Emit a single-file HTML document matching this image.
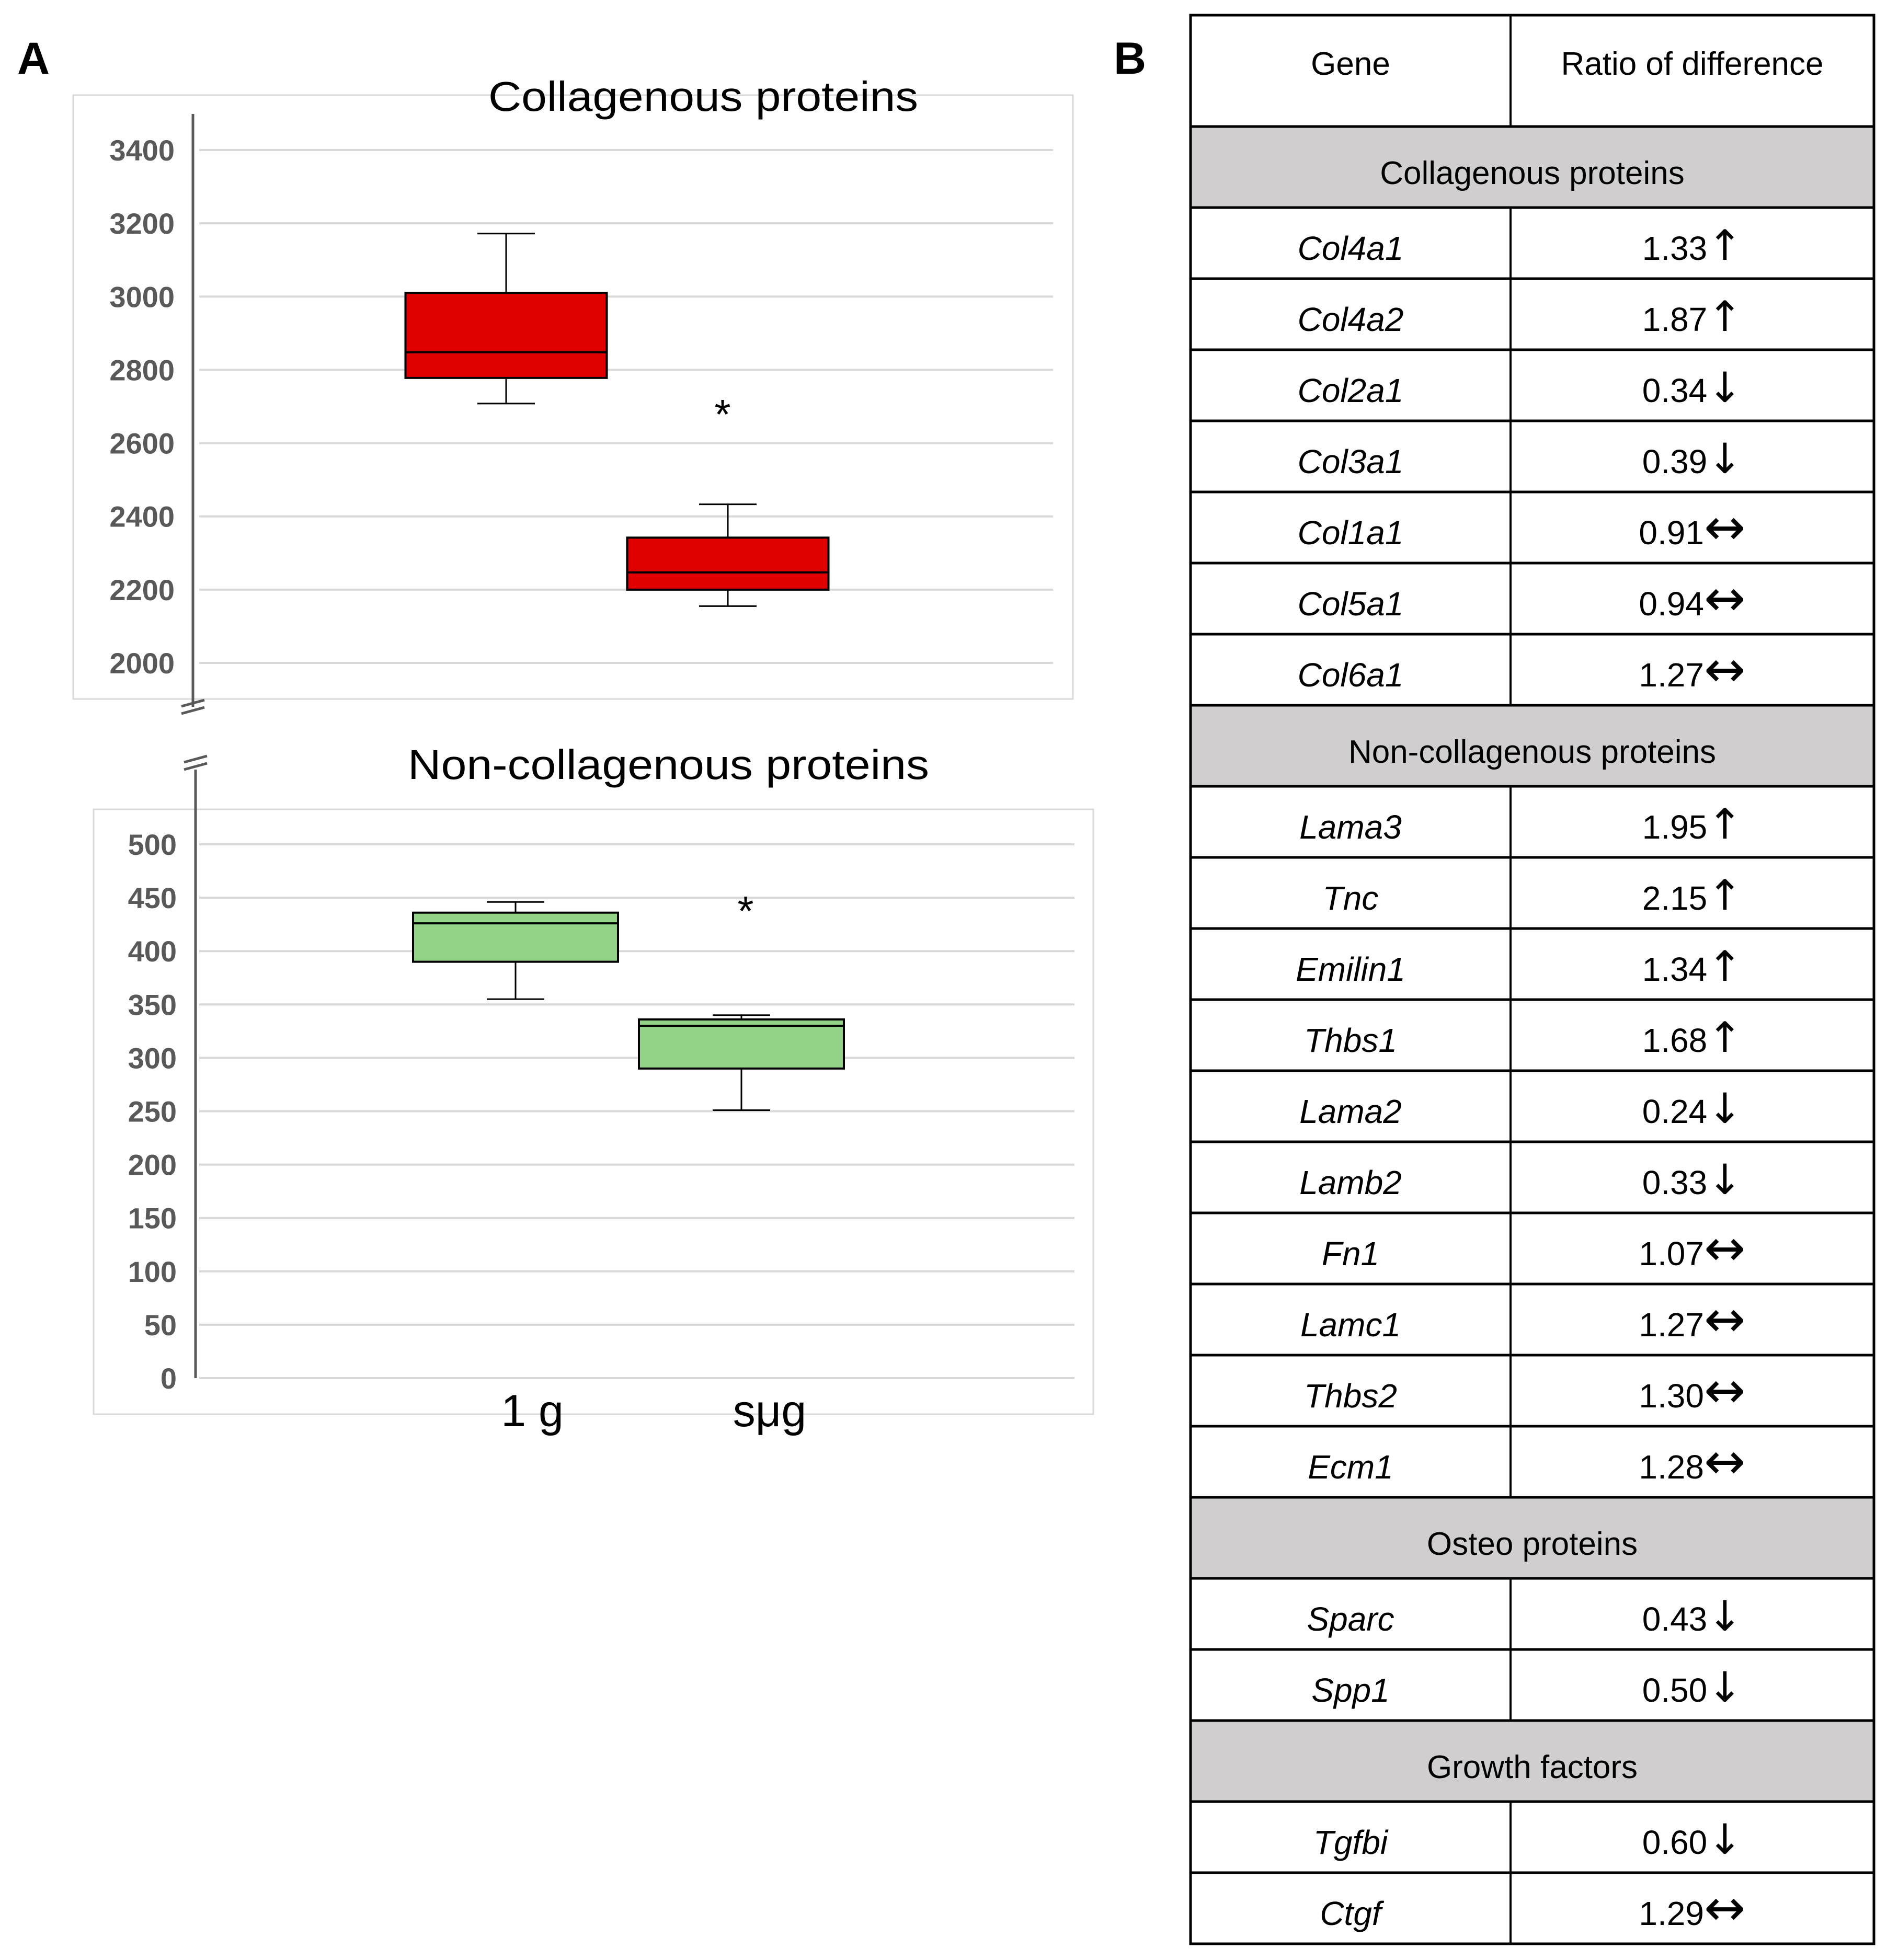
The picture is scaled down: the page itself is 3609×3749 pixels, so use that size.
<!DOCTYPE html>
<html><head><meta charset="utf-8"><style>
html,body{margin:0;padding:0;background:#fff;}
svg{display:block;}
text{font-family:"Liberation Sans",sans-serif;}
</style></head><body>
<svg id="fig" xmlns="http://www.w3.org/2000/svg" width="3609" height="3749" viewBox="0 0 3609 3749">
<rect width="3609" height="3749" fill="#fff"/>
<text x="33" y="141" font-size="86" font-weight="bold">A</text>
<text x="2130" y="141" font-size="86" font-weight="bold">B</text>
<g id="c1"></g>
<g id="c2"></g>
<g id="tbl"></g>
</svg>
<script>
// Chart 1 data
const c1Ticks = [2000,2200,2400,2600,2800,3000,3200,3400];
const c1Max = [3172,2433];
const c1Q3 = [3010,2342];
const c1Med = [2848,2247];
const c1Q1 = [2778,2200];
const c1Min = [2708,2155];
// Chart 2 data
const c2Ticks = [0,50,100,150,200,250,300,350,400,450,500];
const c2Max = [446,340];
const c2Q3 = [436,336];
const c2Med = [426,330];
const c2Q1 = [390,290];
const c2Min = [355,251];
const categories = ["1 g","sμg"];
// Table data
const sections = ["Collagenous proteins","Non-collagenous proteins","Osteo proteins","Growth factors"];
const genes = [
 ["Col4a1","Col4a2","Col2a1","Col3a1","Col1a1","Col5a1","Col6a1"],
 ["Lama3","Tnc","Emilin1","Thbs1","Lama2","Lamb2","Fn1","Lamc1","Thbs2","Ecm1"],
 ["Sparc","Spp1"],
 ["Tgfbi","Ctgf"]];
const ratios = [
 ["1.33↑","1.87↑","0.34↓","0.39↓","0.91↔","0.94↔","1.27↔"],
 ["1.95↑","2.15↑","1.34↑","1.68↑","0.24↓","0.33↓","1.07↔","1.27↔","1.30↔","1.28↔"],
 ["0.43↓","0.50↓"],
 ["0.60↓","1.29↔"]];

const NS="http://www.w3.org/2000/svg";
function mk(parent,tag,attrs,txt){const e=document.createElementNS(NS,tag);for(const k in attrs)e.setAttribute(k,attrs[k]);if(txt!==undefined)e.textContent=txt;parent.appendChild(e);return e;}

function chart(g,cfg){
  const y=v=>cfg.y0+(v-cfg.v0)*(cfg.y1-cfg.y0)/(cfg.v1-cfg.v0);
  const fr=mk(g,'rect',{x:cfg.fx,y:cfg.fy,width:cfg.fw,height:cfg.fh,fill:'none',stroke:'#d9d9d9','stroke-width':3});
  
  
  const t=mk(g,'text',{x:cfg.tx,y:cfg.ty,'font-size':80,textLength:cfg.tw,lengthAdjust:'spacingAndGlyphs'},cfg.title);
  
  
  cfg.ticks.forEach(v=>{
    const l=mk(g,'line',{x1:381,x2:cfg.gx2,y1:y(v),y2:y(v),stroke:'#d9d9d9','stroke-width':4});
    
    
    const tl=mk(g,'text',{x:cfg.lx,y:y(v)+20,'font-size':56,'font-weight':'bold',fill:'#595959','text-anchor':'end'},String(v));
    
    
  });
  const ax=mk(g,'line',{x1:cfg.ax,x2:cfg.ax,y1:cfg.at,y2:cfg.ab,stroke:'#595959','stroke-width':5});
  
  
  cfg.brk.forEach(by=>{
    const b=mk(g,'path',{d:`M${cfg.ax-22} ${by+6} L${cfg.ax+22} ${by-6} M${cfg.ax-22} ${by+20} L${cfg.ax+22} ${by+8}`,stroke:'#595959','stroke-width':5,fill:'none'});
    
    
  });
  for(let i=0;i<cfg.max.length;i++){
    const cx=cfg.cx[i],hw=cfg.bw/2;
    const wk=mk(g,'path',{d:`M${cx} ${y(cfg.max[i])} V${y(cfg.q3[i])} M${cx} ${y(cfg.q1[i])} V${y(cfg.min[i])} M${cx-55} ${y(cfg.max[i])} H${cx+55} M${cx-55} ${y(cfg.min[i])} H${cx+55}`,stroke:'#000','stroke-width':3,fill:'none'});
    
    
    const bx=mk(g,'rect',{x:cx-hw,y:y(cfg.q3[i]),width:cfg.bw,height:y(cfg.q1[i])-y(cfg.q3[i]),fill:cfg.fill,stroke:'#000','stroke-width':4});
    
    
    const md=mk(g,'line',{x1:cx-hw,x2:cx+hw,y1:y(cfg.med[i]),y2:y(cfg.med[i]),stroke:'#000','stroke-width':4});
    
    
  }
  const st=mk(g,'text',{x:cfg.sx,y:cfg.sy+40,'font-size':80,'text-anchor':'middle'},'*');
  
  
}
chart(document.getElementById('c1'),{fx:140,fy:182,fw:1912,fh:1155,title:'Collagenous proteins',tx:934,ty:212,tw:822,
  ticks:c1Ticks,v0:2000,v1:3400,y0:1268,y1:287,gx2:2014,lx:334,ax:369,at:218,ab:1352,brk:[1345],
  max:c1Max,q3:c1Q3,med:c1Med,q1:c1Q1,min:c1Min,cx:[968,1392],bw:385,fill:'#e00000',sx:1382,sy:780});
chart(document.getElementById('c2'),{fx:179,fy:1548,fw:1912,fh:1157,title:'Non-collagenous proteins',tx:780,ty:1490,tw:997,
  ticks:c2Ticks,v0:0,v1:500,y0:2636,y1:1615,gx2:2055,lx:338,ax:374,at:1472,ab:2636,brk:[1452],
  max:c2Max,q3:c2Q3,med:c2Med,q1:c2Q1,min:c2Min,cx:[986,1418],bw:392,fill:'#93d388',sx:1426,sy:1730});
const g2=document.getElementById('c2');
const xc=[1018,1472];
categories.forEach((c,i)=>{
  const t=mk(g2,'text',{x:xc[i],y:2728,'font-size':86,'text-anchor':'middle'},c);
  
  
});

// Table
const tg=document.getElementById('tbl');
const L=2277,M=2889,R=3584,T=29,HH=213,BH=155,RH=136;
let yy=T;
const hdr=mk(tg,'rect',{x:L,y:yy,width:R-L,height:HH,fill:'#fff'});


let t1=mk(tg,'text',{x:(L+M)/2,y:yy+114,'font-size':62,'text-anchor':'middle'},'Gene');


let t2=mk(tg,'text',{x:(M+R)/2,y:yy+114,'font-size':62,'text-anchor':'middle'},'Ratio of difference');


const hlines=[yy]; const vsegs=[[yy,yy+HH]];
yy+=HH; hlines.push(yy);
sections.forEach((s,si)=>{
  const b=mk(tg,'rect',{x:L,y:yy,width:R-L,height:BH,fill:'#d0cece'});
  
  
  const st=mk(tg,'text',{x:(L+R)/2,y:yy+110,'font-size':62,'text-anchor':'middle'},s);
  
  
  yy+=BH; hlines.push(yy);
  genes[si].forEach((gn,gi)=>{
    const a=mk(tg,'text',{x:(L+M)/2,y:yy+100,'font-size':64,'font-style':'italic','text-anchor':'middle'},gn);
    
    
    const full=ratios[si][gi];
    const num=full.slice(0,-1), arr=full.slice(-1);
    const r=mk(tg,'text',{x:(M+R)/2,y:yy+100,'font-size':64,'text-anchor':'middle'});
    
    
    mk(r,'tspan',{},num);
    const ar=mk(r,'tspan',{'font-family':'DejaVu Sans','font-size':arr==='↔'?95:80,'font-weight':'normal'},arr);
    
    
    vsegs.push([yy,yy+RH]);
    yy+=RH; hlines.push(yy);
  });
});
hlines.forEach(h=>{
  const l=mk(tg,'line',{x1:L,x2:R,y1:h,y2:h,stroke:'#000','stroke-width':5});
  
  
});
vsegs.forEach(v=>{
  const l=mk(tg,'line',{x1:M,x2:M,y1:v[0],y2:v[1],stroke:'#000','stroke-width':4});
  
  
});
const ob=mk(tg,'rect',{x:L,y:T,width:R-L,height:yy-T,fill:'none',stroke:'#000','stroke-width':5});


</script>
</body></html>
